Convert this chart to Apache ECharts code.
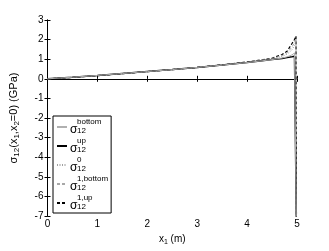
<!DOCTYPE html>
<html><head><meta charset="utf-8">
<script src="https://cdn.jsdelivr.net/npm/echarts@6/dist/echarts.min.js"></script>
<style>html,body{margin:0;padding:0;background:#fff}#c{width:329px;height:251px}</style>
</head><body><div id="c"></div>
<script>
var xs = [0, 0.5, 1, 1.5, 2, 2.5, 3, 3.5, 4, 4.3, 4.5, 4.7, 4.8, 4.9, 4.95, 4.98, 4.99];
var sBottom = [0, 0.08, 0.17, 0.27, 0.37, 0.47, 0.58, 0.7, 0.83, 0.92, 0.98, 1.06, 1.12, 1.22, 1.32, 1.42, -8];
var sUp     = [0, 0.08, 0.17, 0.27, 0.37, 0.47, 0.58, 0.7, 0.83, 0.92, 0.98, 1.04, 1.08, 1.12, 1.15, 1.18, -8];
var s0      = [0, 0.08, 0.17, 0.27, 0.37, 0.47, 0.58, 0.7, 0.84, 0.94, 1.0, 1.14, 1.25, 1.48, 1.7, 1.98, -8];
var s1Bot   = [0, 0.07, 0.16, 0.26, 0.37, 0.47, 0.58, 0.71, 0.85, 0.96, 1.03, 1.18, 1.32, 1.62, 1.85, 2.08, -8];
var s1Up    = [0, 0.07, 0.16, 0.26, 0.37, 0.47, 0.58, 0.71, 0.86, 0.97, 1.05, 1.24, 1.4, 1.8, 2.0, 2.18, -8];
var supLabels = ['bottom', 'up', '0', '1,bottom', '1,up'];
var xTicks = [0, 1, 2, 3, 4, 5];
var yTicks = [-7, -6, -5, -4, -3, -2, -1, 0, 1, 2, 3];

var seriesData = [sBottom, sUp, s0, s1Bot, s1Up];
var styles = [
  {color: '#b0b0b0', width: 1, type: 'solid'},
  {color: '#000', width: 1.5, type: 'solid'},
  {color: '#a0a0a0', width: 1, type: [1, 1.5]},
  {color: '#a8a8a8', width: 1, type: [3, 2]},
  {color: '#000', width: 1.2, type: [3, 2]}
];
var FONT = 'Liberation Sans';
function pairs(ys){ return xs.map(function(x,i){ return [x, ys[i]]; }); }

var series = seriesData.map(function(ys, i){
  return {
    name: supLabels[i], type: 'line', data: pairs(ys), symbol: 'none', showSymbol: false,
    clip: true, animation: false, z: 10 - i,
    itemStyle: {color: styles[i].color},
    lineStyle: styles[i]
  };
});

var axisCommon = {
  axisLine: {show: true, lineStyle: {color: '#000', width: 1}},
  axisTick: {show: true, inside: true, length: 3, lineStyle: {color: '#000'}},
  splitLine: {show: false}
};
var chart = echarts.init(document.getElementById('c'), null, {renderer: 'canvas'});
chart.setOption({
  animation: false,
  backgroundColor: '#fff',
  grid: {left: 43, right: 32, top: 20, bottom: 28, containLabel: false},
  xAxis: [
    Object.assign({type: 'value', min: xTicks[0], max: xTicks[xTicks.length-1], interval: 1, position: 'bottom',
      axisLabel: {color: '#000', fontFamily: FONT, fontSize: 10, margin: 3},
      name: '{n|x}{sub|1}{n| (m)}', nameLocation: 'middle', nameGap: 17,
      nameTextStyle: {fontFamily: FONT, color: '#000', rich: {
        n: {fontFamily: FONT, fontSize: 10, color: '#000'},
        sub: {fontFamily: FONT, fontSize: 7, color: '#000', verticalAlign: 'bottom', padding: [6, 0, 0, 0]}
      }}
    }, axisCommon),
    Object.assign({type: 'value', min: xTicks[0], max: xTicks[xTicks.length-1], interval: 1, position: 'top',
      axisLabel: {show: false}}, axisCommon)
  ],
  yAxis: [
    Object.assign({type: 'value', min: yTicks[0], max: yTicks[yTicks.length-1], interval: 1, position: 'left',
      axisLabel: {color: '#000', fontFamily: FONT, fontSize: 10, margin: 4},
      name: '{n|σ}{sub|12}{n|(x}{sub|1}{n|,x}{sub|2}{n|=0) (GPa)}', nameLocation: 'middle', nameGap: 27, nameRotate: 90,
      nameTextStyle: {fontFamily: FONT, color: '#000', rich: {
        n: {fontFamily: FONT, fontSize: 11, color: '#000'},
        sub: {fontFamily: FONT, fontSize: 8, color: '#000', verticalAlign: 'bottom', padding: [6, 0, 0, 0]}
      }}
    }, axisCommon),
    Object.assign({type: 'value', min: yTicks[0], max: yTicks[yTicks.length-1], interval: 1, position: 'right',
      axisLabel: {show: false}}, axisCommon)
  ],
  legend: {
    show: true, orient: 'vertical', left: 53, top: 116,
    backgroundColor: '#fff', borderColor: '#000', borderWidth: 1,
    padding: [2, 3, 1, 3], itemGap: 1, itemWidth: 10, itemHeight: 8,
    data: supLabels,
    itemStyle: {opacity: 0},
    formatter: function(name){
      return '{sp| }{sup|' + name + '}\n{s|σ}{sub|12}';
    },
    textStyle: {fontFamily: FONT, fontSize: 8, lineHeight: 8, color: '#000', padding: [0,0,0,-2], rich: {
      sp: {width: 7, fontSize: 6, lineHeight: 6},
      sup: {fontFamily: FONT, fontSize: 8, lineHeight: 6, color: '#000'},
      s: {fontFamily: FONT, fontSize: 12, lineHeight: 10, width: 7, color: '#000'},
      sub: {fontFamily: FONT, fontSize: 8, lineHeight: 8, color: '#000', verticalAlign: 'bottom', padding: [2,0,0,0]}
    }}
  },
  series: series
});
</script></body></html>
